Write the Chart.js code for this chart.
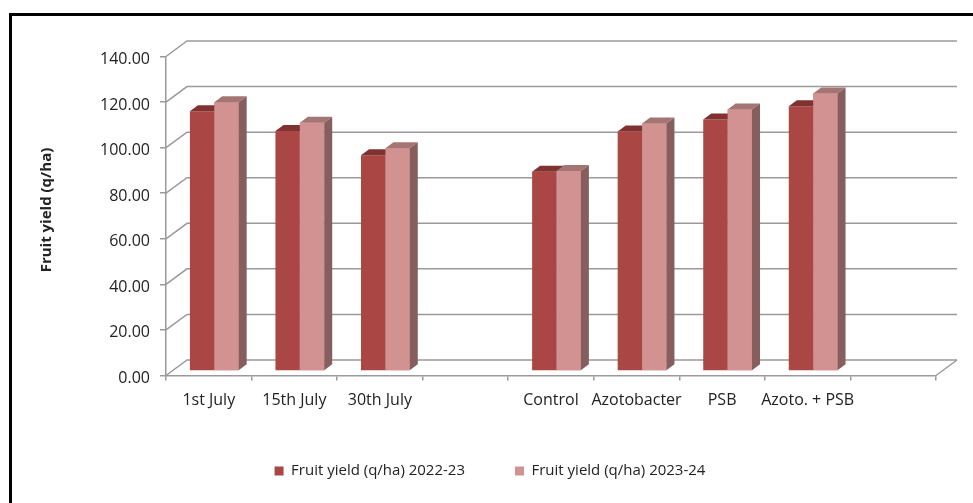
<!DOCTYPE html>
<html>
<head>
<meta charset="utf-8">
<script src="https://cdn.jsdelivr.net/npm/chart.js@4.4.1/dist/chart.umd.min.js"></script>
<style>
  body { margin: 0; background: #fff; }
  #wrap { position: relative; width: 973px; height: 503px; overflow: hidden; }
  #wrap canvas { position: absolute; left: 0; top: 0; }
  #frame { position: absolute; left: 9px; top: 13px; width: 990px; height: 520px;
           border-left: 3px solid #000; border-top: 3px solid #000; }
</style>
</head>
<body>
<div id="wrap">
  <canvas id="chart" width="973" height="503"></canvas>
  <div id="frame"></div>
</div>
<script>
const categories = ['1st July', '15th July', '30th July', '', 'Control', 'Azotobacter', 'PSB', 'Azoto. + PSB', ''];
const yield2223 = [114.0, 105.3, 94.7, null, 87.4, 105.1, 110.4, 116.2, null];
const yield2324 = [118.0, 109.0, 97.8, null, 87.8, 108.6, 114.8, 121.8, null];
const seriesNames = ['Fruit yield (q/ha) 2022-23', 'Fruit yield (q/ha) 2023-24'];
const yTicks = [0, 20, 40, 60, 80, 100, 120, 140];

const FONT = "'Open Sans', sans-serif";
const TEXT = '#222';
const GRID = '#9a9a9a';

// fake depth: back wall offset, bar offset, bar depth
const WALL_DX = 21, WALL_DY = -15.5;
const BAR_DX = 5.5, BAR_DY = -4.5;
const FACE_DX = 8, FACE_DY = -6;

const faceColors = [
  { top: '#803230', side: '#7a3533' },
  { top: '#a57574', side: '#855e5d' }
];

function drawFaces(ctx, chart, idx) {
  const data = chart.data.datasets[idx].data;
  chart.getDatasetMeta(idx).data.forEach((bar, i) => {
    if (data[i] == null) return;
    const l = bar.x - bar.width / 2, r = bar.x + bar.width / 2;
    const t = bar.y, b = bar.base;
    ctx.fillStyle = faceColors[idx].top;
    ctx.beginPath();
    ctx.moveTo(l, t);
    ctx.lineTo(l + FACE_DX, t + FACE_DY);
    ctx.lineTo(r + FACE_DX, t + FACE_DY);
    ctx.lineTo(r, t);
    ctx.closePath();
    ctx.fill();
    ctx.fillStyle = faceColors[idx].side;
    ctx.beginPath();
    ctx.moveTo(r, t);
    ctx.lineTo(r + FACE_DX, t + FACE_DY);
    ctx.lineTo(r + FACE_DX, b + FACE_DY);
    ctx.lineTo(r, b);
    ctx.closePath();
    ctx.fill();
  });
}

const threeD = {
  id: 'threeD',
  beforeDatasetsDraw(chart) {
    const { ctx, chartArea: a, scales: { y } } = chart;
    ctx.save();
    ctx.strokeStyle = GRID;
    ctx.lineWidth = 1.5;
    yTicks.forEach(v => {
      const py = y.getPixelForValue(v);
      ctx.beginPath();
      ctx.moveTo(a.left, py);
      ctx.lineTo(a.left + WALL_DX, py + WALL_DY);
      ctx.lineTo(a.right + WALL_DX, py + WALL_DY);
      ctx.stroke();
    });
    ctx.beginPath();
    ctx.moveTo(a.right, a.bottom);
    ctx.lineTo(a.right + WALL_DX, a.bottom + WALL_DY);
    ctx.stroke();
    ctx.restore();
    // bars sit a bit inside the box
    ctx.save();
    ctx.translate(BAR_DX, BAR_DY);
  },
  afterDatasetsDraw(chart) {
    const { ctx } = chart;
    // dark series faces, then the light series again on top of them
    drawFaces(ctx, chart, 0);
    chart.getDatasetMeta(1).data.forEach((bar, i) => {
      if (yield2324[i] != null) bar.draw(ctx);
    });
    drawFaces(ctx, chart, 1);
    ctx.restore();
    // y axis title
    ctx.save();
    ctx.translate(47, 210);
    ctx.rotate(-Math.PI / 2);
    ctx.font = 'bold 15px ' + FONT;
    ctx.fillStyle = TEXT;
    ctx.textAlign = 'center';
    ctx.textBaseline = 'middle';
    ctx.fillText('Fruit yield (q/ha)', 0, 0);
    ctx.restore();
  }
};

new Chart(document.getElementById('chart'), {
  type: 'bar',
  data: {
    labels: categories,
    datasets: [
      { label: seriesNames[0], data: yield2223, backgroundColor: '#aa4643', borderWidth: 0, clip: false },
      { label: seriesNames[1], data: yield2324, backgroundColor: '#d19291', borderWidth: 0, clip: false }
    ]
  },
  options: {
    responsive: false,
    animation: false,
    devicePixelRatio: 1,
    datasets: { bar: { categoryPercentage: 0.57, barPercentage: 1.0 } },
    layout: { padding: { left: 44, right: 37, top: 56.5, bottom: 14.5 } },
    scales: {
      x: {
        grid: { drawOnChartArea: false, color: GRID, lineWidth: 1.5, tickLength: 5, offset: true },
        border: { color: GRID, width: 1.5 },
        ticks: { color: TEXT, font: { family: FONT, size: 16 }, maxRotation: 0, autoSkip: false, padding: 10 },
        afterFit(s) { s.height = 38; }
      },
      y: {
        min: 0, max: 140,
        grid: { drawOnChartArea: false, color: GRID, lineWidth: 1.5, tickLength: 6 },
        border: { color: GRID, width: 1.5 },
        ticks: { stepSize: 20, color: TEXT, font: { family: FONT, size: 16 }, padding: 10, labelOffset: 3,
                 callback: v => v.toFixed(2) },
        afterFit(s) { s.width = 122; }
      }
    },
    plugins: {
      tooltip: { enabled: false },
      legend: {
        position: 'bottom',
        labels: {
          boxWidth: 9, boxHeight: 9, padding: 50, color: TEXT,
          font: { family: FONT, size: 15 }
        }
      }
    }
  },
  plugins: [threeD]
});
</script>
</body>
</html>
